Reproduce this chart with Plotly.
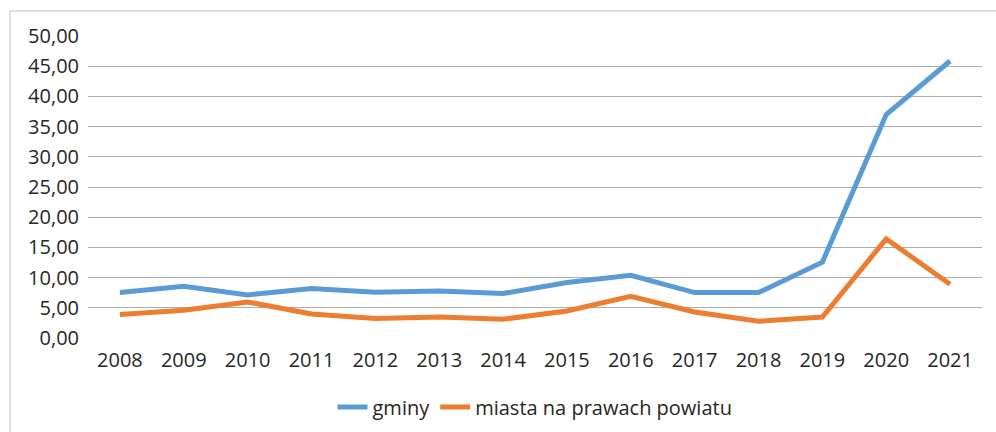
import plotly.graph_objects as go

years = [str(y) for y in range(2008, 2022)]
gminy = [7.52, 8.57, 7.13, 8.19, 7.57, 7.79, 7.36, 9.2, 10.39, 7.52, 7.52, 12.55, 37.0, 45.86]
miasta = [3.88, 4.59, 5.97, 3.98, 3.21, 3.48, 3.10, 4.47, 6.91, 4.31, 2.77, 3.48, 16.41, 8.90]
y_ticks = [0, 5, 10, 15, 20, 25, 30, 35, 40, 45, 50]

FONT = "Open Sans"
fig = go.Figure()
fig.add_trace(go.Scatter(x=years, y=gminy, name="gminy", mode="lines",
                         line=dict(color="#5B9BD5", width=5)))
fig.add_trace(go.Scatter(x=years, y=miasta, name="miasta na prawach powiatu", mode="lines",
                         line=dict(color="#ED7D31", width=5)))

W, H = 996, 432
ml, mr, mt, mb = 88, 14, 36, 94
pw, ph = W - ml - mr, H - mt - mb

fig.update_layout(
    width=W, height=H,
    margin=dict(l=ml, r=mr, t=mt, b=mb, autoexpand=False),
    paper_bgcolor="white", plot_bgcolor="white",
    separators=", ",
    font=dict(family=FONT, size=20, color="#262626"),
    showlegend=True,
    legend=dict(orientation="h", x=0.5, xanchor="center", y=-69 / ph, yanchor="middle",
                font=dict(size=20, family=FONT, color="#262626")),
    xaxis=dict(type="category", range=[-0.5, 13.5], showgrid=False, showline=False,
               zeroline=False, ticks="", ticklabelstandoff=8, automargin=False),
    yaxis=dict(range=[0, 50], tickvals=y_ticks, tickformat=".2f", showgrid=True,
               gridcolor="#ADADAD", gridwidth=1, zeroline=False, showline=False,
               ticks="", ticklabelstandoff=8, automargin=False),
    shapes=[dict(type="rect", xref="paper", yref="paper",
                 x0=(10 - ml) / pw, x1=(1010 - ml) / pw,
                 y0=(H - mb - 460) / ph, y1=(H - mb - 11) / ph,
                 line=dict(color="#BFBFBF", width=1), fillcolor="rgba(0,0,0,0)", layer="below")],
)
fig.write_html("out.html", config={"displayModeBar": False},
               post_script="document.body.style.margin='0';document.body.style.overflow='hidden';")
